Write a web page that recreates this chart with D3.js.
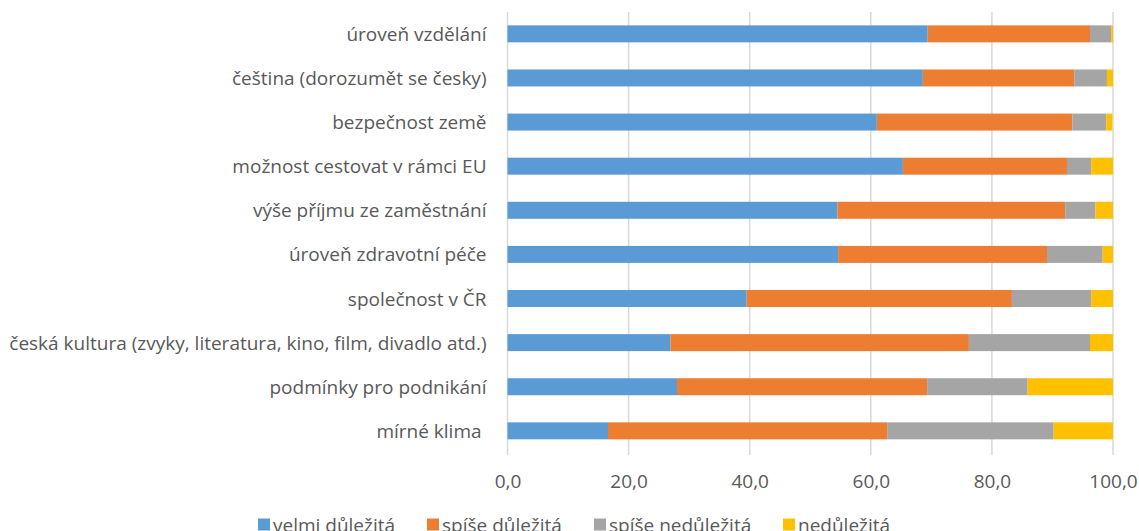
<!DOCTYPE html>
<html lang="cs">
  <head>
    <meta charset="UTF-8" />
    <script src="https://d3js.org/d3.v7.min.js"></script>
    <title>Důležitost faktorů</title>
    <style>
      body {
        margin: 0;
        background: #fff;
      }
      text {
        font-family: 'Open Sans', Lato, sans-serif;
        fill: #595959;
      }
    </style>
  </head>
  <body>
    <script>
      var width = 1139
      var height = 531

      // kategorie shora dolů
      var categories = [
        'úroveň vzdělání',
        'čeština (dorozumět se česky)',
        'bezpečnost země',
        'možnost cestovat v rámci EU',
        'výše příjmu ze zaměstnání',
        'úroveň zdravotní péče',
        'společnost v ČR',
        'česká kultura (zvyky, literatura, kino, film, divadlo atd.)',
        'podmínky pro podnikání',
        'mírné klima '
      ]
      var seriesNames = ['velmi důležitá', 'spíše důležitá', 'spíše nedůležitá', 'nedůležitá']
      var velmiDulezita = [69.4, 68.6, 61.0, 65.3, 54.5, 54.6, 39.5, 26.9, 28.0, 16.6]
      var spiseDulezita = [26.8, 25.0, 32.3, 27.1, 37.6, 34.5, 43.8, 49.3, 41.3, 46.1]
      var spiseNedulezita = [3.5, 5.4, 5.6, 4.0, 5.0, 9.2, 13.1, 20.0, 16.6, 27.5]
      var nedulezita = [0.3, 1.0, 1.0, 3.6, 2.9, 1.7, 3.6, 3.8, 14.1, 9.8]
      var xTicks = [0, 20, 40, 60, 80, 100]
      var colors = ['#5B9BD5', '#ED7D31', '#A5A5A5', '#FFC000']

      var rows = categories.map(function (c, i) {
        return {
          cat: c,
          s0: velmiDulezita[i],
          s1: spiseDulezita[i],
          s2: spiseNedulezita[i],
          s3: nedulezita[i]
        }
      })
      var stack = d3.stack().keys(['s0', 's1', 's2', 's3'])(rows)

      var svg = d3
        .select('body')
        .append('svg')
        .attr('width', width)
        .attr('height', height)

      var x = d3.scaleLinear().domain([0, 100]).range([507.5, 1113])
      var y = d3
        .scaleBand()
        .domain(categories)
        .range([11.8, 452.9])
        .paddingInner(0.615)
        .paddingOuter(0.3075)

      // mřížka
      svg
        .append('g')
        .selectAll('line')
        .data(xTicks)
        .enter()
        .append('line')
        .attr('x1', function (d) { return x(d) })
        .attr('x2', function (d) { return x(d) })
        .attr('y1', 12)
        .attr('y2', 455)
        .attr('stroke', '#d9d9d9')
        .attr('stroke-width', 1.5)

      // pruhy
      svg
        .append('g')
        .selectAll('g')
        .data(stack)
        .enter()
        .append('g')
        .attr('fill', function (d, i) { return colors[i] })
        .selectAll('rect')
        .data(function (d) { return d })
        .enter()
        .append('rect')
        .attr('x', function (d) { return x(d[0]) })
        .attr('width', function (d) { return x(d[1]) - x(d[0]) })
        .attr('y', function (d) { return y(d.data.cat) })
        .attr('height', y.bandwidth())

      // popisky kategorií
      var yAxis = d3.axisLeft(y).tickSize(0).tickPadding(21)
      var gy = svg
        .append('g')
        .attr('transform', 'translate(' + x(0) + ',0)')
        .call(yAxis)
      gy.select('.domain').remove()
      gy.selectAll('text')
        .attr('font-size', 19)
        .attr('font-family', null)
        .attr('dy', '0.37em')
        .style('white-space', 'pre')
        .attr('fill', '#595959')

      // osa x
      var xAxis = d3
        .axisBottom(x)
        .tickValues(xTicks)
        .tickSize(0)
        .tickPadding(0)
        .tickFormat(function (d) { return d3.format('.1f')(d).replace('.', ',') })
      var gx = svg
        .append('g')
        .attr('transform', 'translate(0,474)')
        .call(xAxis)
      gx.select('.domain').remove()
      gx.selectAll('text')
        .attr('font-size', 19)
        .attr('font-family', null)
        .attr('fill', '#595959')

      // legenda
      var legendX = [258, 427, 594, 783]
      var legend = svg
        .append('g')
        .selectAll('g')
        .data(seriesNames)
        .enter()
        .append('g')
        .attr('transform', function (d, i) { return 'translate(' + legendX[i] + ',0)' })
      legend
        .append('rect')
        .attr('y', 518.5)
        .attr('width', 12)
        .attr('height', 12)
        .attr('fill', function (d, i) { return colors[i] })
      legend
        .append('text')
        .attr('x', 15)
        .attr('y', 532)
        .attr('font-size', 19)
        .text(function (d) { return d })
    </script>
  </body>
</html>
